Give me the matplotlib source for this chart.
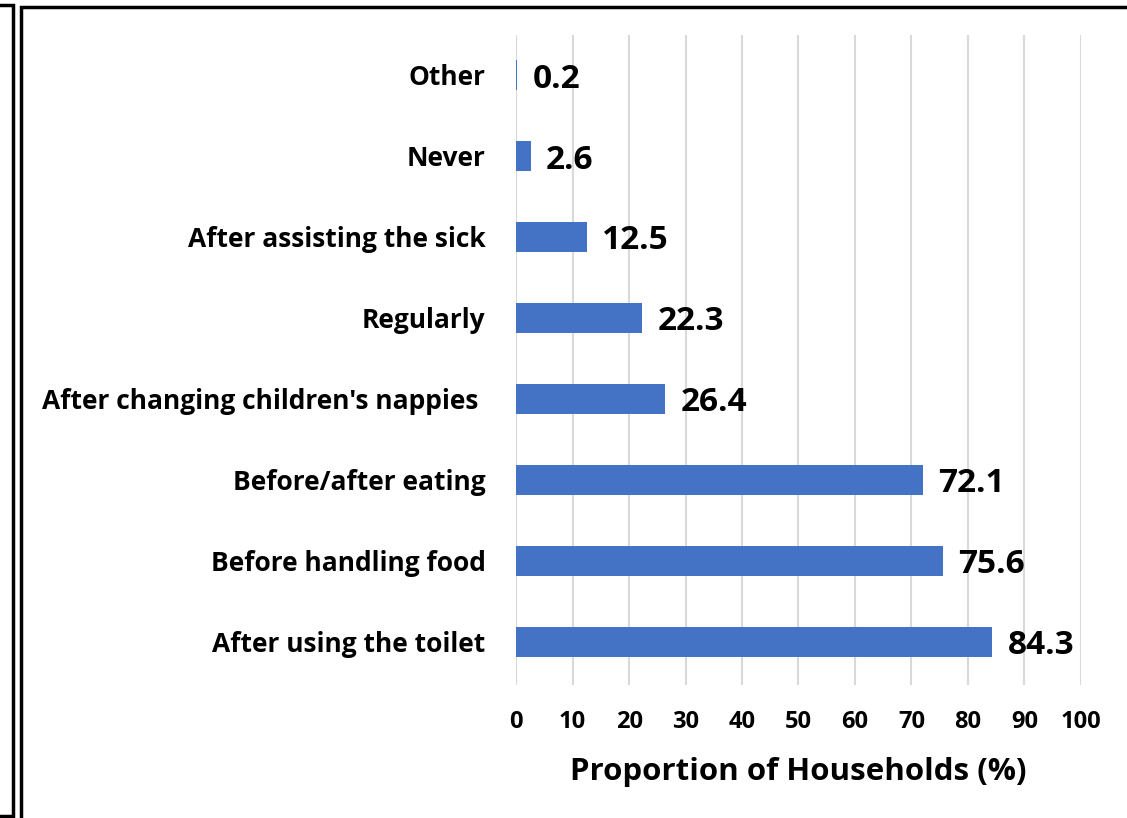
import matplotlib.pyplot as plt
from matplotlib.patches import Rectangle

categories = ["Other", "Never", "After assisting the sick", "Regularly",
              "After changing children's nappies ", "Before/after eating",
              "Before handling food", "After using the toilet"]
values = [0.2, 2.6, 12.5, 22.3, 26.4, 72.1, 75.6, 84.3]
xticks = list(range(0, 101, 10))

plt.rcParams['font.family'] = ['Open Sans', 'DejaVu Sans']
plt.rcParams['font.weight'] = 'bold'

fig = plt.figure(figsize=(11.27, 8.18), dpi=100)
ax = fig.add_axes([0.458, 0.163, 0.501, 0.794])

ypos = range(len(categories))
bars = ax.barh(ypos, values, height=0.37, color="#4472C4", zorder=3)
for y, v in zip(ypos, values):
    ax.annotate(f"{v}", (v, y), xytext=(11, -3), textcoords="offset points",
                va="center", ha="left", fontsize=24, fontweight="bold")

ax.set_ylim(7.53, -0.49)
ax.set_xlim(0, 100)
ax.set_xticks(xticks)
ax.set_yticks(list(ypos))
ax.set_yticklabels(categories, fontsize=19, fontweight="bold")
ax.tick_params(axis="x", labelsize=17, length=0, pad=18)
ax.tick_params(axis="y", length=0, pad=22)
ax.grid(axis="x", color="#d9d9d9", linewidth=1.5, zorder=0)
for s in ax.spines.values():
    s.set_visible(False)
ax.set_xlabel("Proportion of Households (%)", fontsize=22.5, fontweight="bold", labelpad=17)

# frame borders
fig.patches.append(Rectangle((-0.05, 2 / 818), 0.05 + 13 / 1127, 1 - 7 / 818,
                             transform=fig.transFigure, fill=False,
                             edgecolor="black", linewidth=2.5))
fig.patches.append(Rectangle((21 / 1127, -0.05), 1.0, 1.05 - 7 / 818,
                             transform=fig.transFigure, fill=False,
                             edgecolor="black", linewidth=2.5))

fig.savefig("out.png", dpi=100)
